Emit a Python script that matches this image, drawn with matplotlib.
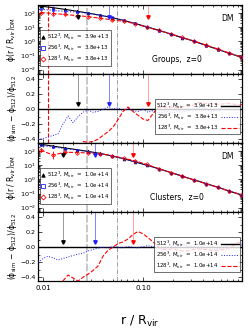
import numpy as np
import matplotlib
matplotlib.use("Agg")
import matplotlib.pyplot as plt
from matplotlib.lines import Line2D
from matplotlib.ticker import FixedLocator, LogFormatterMathtext, LogLocator, NullFormatter

# profile bins (r/Rvir) and log10 of the normalised density profile
r_bins = [0.0095, 0.0126, 0.0166, 0.0219, 0.0282, 0.0372, 0.0490, 0.0646, 0.0832,
          0.110, 0.145, 0.191, 0.245, 0.324, 0.427, 0.562, 0.724, 0.955]

grp_512 = [2.47, 2.36, 2.24, 2.11, 1.98, 1.83, 1.66, 1.46, 1.25, 1.01, 0.76, 0.50, 0.26, 0.00, -0.29, -0.57, -0.84, -1.12]
grp_256 = [2.26, 2.17, 2.10, 2.05, 1.97, 1.82, 1.67, 1.46, 1.25, 1.00, 0.75, 0.49, 0.25, 0.00, -0.30, -0.58, -0.84, -1.10]
grp_128 = [2.02, 1.95, 1.88, 1.80, 1.73, 1.62, 1.50, 1.40, 1.23, 0.98, 0.76, 0.51, 0.27, 0.02, -0.27, -0.55, -0.82, -1.10]
grp_err_512 = [0.05, 0.04, 0.04, 0.03, 0.03, 0.03, 0.02, 0.02, 0.02, 0.02, 0.02, 0.02, 0.02, 0.02, 0.02, 0.02, 0.02, 0.02]
grp_err_256 = [0.08, 0.30, 0.08, 0.06, 0.05, 0.04, 0.04, 0.03, 0.03, 0.03, 0.02, 0.02, 0.02, 0.02, 0.02, 0.02, 0.02, 0.02]
grp_err_128 = [0.10, 0.12, 0.10, 0.10, 0.08, 0.08, 0.07, 0.06, 0.05, 0.04, 0.04, 0.03, 0.03, 0.03, 0.03, 0.03, 0.03, 0.03]

cl_512 = [2.46, 2.33, 2.20, 2.08, 1.96, 1.82, 1.64, 1.44, 1.22, 0.98, 0.73, 0.47, 0.22, -0.04, -0.30, -0.56, -0.82, -1.09]
cl_256 = [2.38, 2.27, 2.16, 2.05, 1.93, 1.80, 1.63, 1.44, 1.22, 0.98, 0.73, 0.47, 0.23, -0.03, -0.30, -0.57, -0.83, -1.08]
cl_128 = [2.05, 1.70, 1.90, 1.88, 1.85, 1.80, 1.66, 1.47, 1.30, 1.04, 0.74, 0.47, 0.22, -0.05, -0.31, -0.57, -0.83, -1.07]
cl_err_512 = [0.04, 0.04, 0.03, 0.03, 0.03, 0.02, 0.02, 0.02, 0.02, 0.02, 0.02, 0.02, 0.02, 0.02, 0.02, 0.02, 0.02, 0.02]
cl_err_256 = [0.06, 0.05, 0.05, 0.04, 0.04, 0.03, 0.03, 0.03, 0.02, 0.02, 0.02, 0.02, 0.02, 0.02, 0.02, 0.02, 0.02, 0.02]
cl_err_128 = [0.15, 0.30, 0.12, 0.10, 0.08, 0.08, 0.06, 0.05, 0.05, 0.04, 0.04, 0.03, 0.03, 0.03, 0.03, 0.03, 0.03, 0.03]

# residual curves (phi_sim - phi_512)/phi_512 on a finer grid
r_res = [0.00891, 0.0100, 0.0112, 0.0126, 0.0141, 0.0158, 0.0178, 0.0200, 0.0224, 0.0251,
         0.0282, 0.0316, 0.0355, 0.0398, 0.0447, 0.0501, 0.0562, 0.0631, 0.0708, 0.0794,
         0.0891, 0.100, 0.112, 0.126, 0.141, 0.158, 0.178, 0.200, 0.224, 0.251,
         0.282, 0.316, 0.355, 0.398, 0.447, 0.501, 0.562, 0.631, 0.708, 0.794, 0.891, 0.977]
nan = np.nan
res_grp_256 = [-0.40, -0.39, -0.37, -0.35, -0.33, -0.20, -0.09, -0.18, -0.10, -0.04,
               -0.01, -0.04, -0.03, 0.00, 0.03, 0.00, 0.02, -0.02, 0.01, -0.02,
               -0.03, 0.00, -0.04, -0.02, -0.05, -0.04, -0.03, -0.05, -0.03, -0.04,
               -0.02, 0.00, 0.02, 0.03, -0.01, -0.03, 0.00, 0.03, 0.05, 0.06, 0.04, 0.03]
res_grp_128 = [nan, nan, nan, nan, nan, nan, nan, nan, nan, -0.43,
               -0.44, -0.43, -0.40, -0.35, -0.30, -0.24, -0.14, -0.03, 0.03, -0.03,
               -0.08, -0.13, -0.15, -0.06, 0.02, 0.03, 0.02, 0.03, 0.02, 0.03,
               0.04, 0.05, 0.09, 0.08, 0.07, 0.07, 0.06, 0.07, 0.08, 0.07, 0.06, 0.06]
res_cl_256 = [-0.20, -0.15, -0.12, -0.14, -0.17, -0.15, -0.13, -0.11, -0.09, -0.08,
              -0.05, -0.03, -0.01, 0.00, -0.01, 0.01, 0.00, -0.01, 0.01, 0.00,
              -0.01, 0.01, 0.02, 0.01, -0.01, -0.02, -0.01, 0.02, 0.03, 0.04,
              0.02, 0.01, 0.00, -0.02, -0.03, -0.03, -0.02, -0.01, 0.02, 0.05, 0.04, 0.03]
res_cl_128 = [nan, nan, nan, nan, nan, -0.45, -0.37, -0.41, -0.45, -0.40,
              -0.36, -0.31, -0.25, -0.12, -0.04, 0.00, 0.05, 0.07, 0.11, 0.17,
              0.21, 0.18, 0.13, 0.07, 0.02, -0.03, -0.03, -0.02, -0.04, -0.05,
              -0.05, -0.03, -0.02, -0.03, -0.03, -0.05, -0.04, -0.03, -0.02, 0.02, 0.06, 0.07]

masses_grp = ["3.9e+13", "3.8e+13", "3.8e+13"]
masses_cl = ["1.0e+14", "1.0e+14", "1.0e+14"]
res_labels = ["512", "256", "128"]

# convergence radii (arrows) and reference lines
arrows_grp = [0.0224, 0.046, 0.112]
arrows_cl = [0.0158, 0.033, 0.079]
r_gray = 0.0275
r_dashdot = 0.055
r_red_grp = 0.0111

colors = ["black", "#2020ff", "red"]
arrow_line = ["#888888", "#7070ff", "#ff9090"]
lstyles = ["-", ":", "--"]
markers = ["^", "s", "D"]

plt.rcParams["font.family"] = "DejaVu Sans"
plt.rcParams["mathtext.default"] = "regular"

fig, axes = plt.subplots(4, 1, figsize=(2.48, 3.31), dpi=100, sharex=True)
fig.subplots_adjust(left=0.153, right=0.976, top=0.985, bottom=0.151, hspace=0)


def style_axis(ax):
    ax.tick_params(which="both", direction="in", top=True, right=True,
                   labelsize=4.6, width=0.5, pad=1.5)
    ax.tick_params(which="major", length=3)
    ax.tick_params(which="minor", length=1.5)
    for s in ax.spines.values():
        s.set_linewidth(0.9)


def ref_lines(ax, red_line):
    ax.axvline(r_gray, color="#c8c8c8", lw=1.4, ls=(0, (4, 1)), zorder=1)
    ax.axvline(r_dashdot, color="#777777", lw=0.5, ls="-.", zorder=1)
    if red_line:
        ax.axvline(r_red_grp, color="red", lw=0.8, ls="--", zorder=1)


def profile_panel(ax, prof, errs, masses, arrows, label, red_line):
    ax.set_xscale("log")
    ax.set_yscale("log")
    ax.set_ylim(10 ** -2.3, 10 ** 2.55)
    ref_lines(ax, red_line)
    top = ax.get_ylim()[1]
    for i in range(3):
        ax.plot([arrows[i], arrows[i]], [top, 50], color=arrow_line[i], lw=0.6, zorder=2)
        ax.plot(arrows[i], 50, marker="v", color=colors[i], ms=2.5, zorder=5)
    handles = []
    for i in range(3):
        y = 10 ** np.array(prof[i])
        e = np.array(errs[i])
        lo = y - 10 ** (np.array(prof[i]) - e)
        hi = 10 ** (np.array(prof[i]) + e) - y
        ax.plot(r_bins, y, color=colors[i], ls=lstyles[i], lw=0.8, zorder=3)
        ax.errorbar(r_bins, y, yerr=[lo, hi], fmt="none", ecolor=colors[i], elinewidth=0.6,
                    capsize=0, zorder=4)
        fc = colors[i] if i == 0 else "none"
        ax.plot(r_bins, y, ls="none", marker=markers[i], ms=2.0, mfc=fc, mec=colors[i],
                mew=0.5, zorder=4)
        handles.append(Line2D([], [], ls="none", marker=markers[i], ms=2.5, mfc=fc,
                              mec=colors[i], mew=0.6,
                              label=res_labels[i] + "$^3$, M$_{vir}$  =  " + masses[i]))
    leg = ax.legend(handles=handles, loc="lower left", bbox_to_anchor=(0.0, 0.09),
                    fontsize=3.9, frameon=True, fancybox=False, handlelength=0.6,
                    handletextpad=0.4, borderpad=0.35, labelspacing=0.15,
                    borderaxespad=0.3)
    leg.get_frame().set_edgecolor("black")
    leg.get_frame().set_linewidth(0.5)
    ax.yaxis.set_major_locator(FixedLocator([1e-2, 1e-1, 1e0, 1e1, 1e2]))
    ax.yaxis.set_major_formatter(LogFormatterMathtext())
    ax.yaxis.set_minor_locator(LogLocator(base=10, subs=np.arange(2, 10), numticks=20))
    ax.yaxis.set_minor_formatter(NullFormatter())
    ax.text(0.93, 0.77, "DM", transform=ax.transAxes, fontsize=5.5, ha="center")
    ax.text(0.68, 0.17, label, transform=ax.transAxes, fontsize=5.5, ha="center")
    ax.set_ylabel(r"$\phi$(r / R$_{vir}$)$_{DM}$", fontsize=5.5, labelpad=1)
    style_axis(ax)


def residual_panel(ax, res256, res128, masses, arrows, red_line):
    ax.set_ylim(-0.45, 0.47)
    ref_lines(ax, red_line)
    top = ax.get_ylim()[1]
    for i in range(3):
        ax.plot([arrows[i], arrows[i]], [top, 0.07], color=arrow_line[i], lw=0.6, zorder=2)
        ax.plot(arrows[i], 0.07, marker="v", color=colors[i], ms=2.5, zorder=5)
    series = [np.zeros(len(r_res)), res256, res128]
    widths = [1.0, 0.7, 0.8]
    for i in range(3):
        ax.plot(r_res, series[i], color=colors[i], ls=lstyles[i], lw=widths[i], zorder=3,
                label=res_labels[i] + "$^3$, M$_{vir}$  =  " + masses[i])
    leg = ax.legend(loc="lower right", bbox_to_anchor=(1.0, 0.1), fontsize=3.9,
                    frameon=True, fancybox=False, markerfirst=False, handlelength=3.2,
                    handletextpad=0.5, borderpad=0.35, labelspacing=0.15,
                    borderaxespad=0.3)
    leg.get_frame().set_edgecolor("black")
    leg.get_frame().set_linewidth(0.5)
    ax.yaxis.set_major_locator(plt.MultipleLocator(0.2))
    ax.yaxis.set_minor_locator(plt.MultipleLocator(0.1))
    ax.yaxis.set_major_formatter(plt.FuncFormatter(lambda v, p: f"{v:.1f}".replace("-", "\u2212")))
    ax.set_ylabel(r"($\phi_{sim}$ $-$ $\phi_{512}$)/$\phi_{512}$", fontsize=5.5, labelpad=1)
    style_axis(ax)


profile_panel(axes[0], [grp_512, grp_256, grp_128], [grp_err_512, grp_err_256, grp_err_128],
              masses_grp, arrows_grp, "Groups,  z=0", True)
residual_panel(axes[1], res_grp_256, res_grp_128, masses_grp, arrows_grp, True)
profile_panel(axes[2], [cl_512, cl_256, cl_128], [cl_err_512, cl_err_256, cl_err_128],
              masses_cl, arrows_cl, "Clusters,  z=0", False)
residual_panel(axes[3], res_cl_256, res_cl_128, masses_cl, arrows_cl, False)

axes[3].set_xlim(0.0089, 0.98)
axes[3].xaxis.set_major_locator(FixedLocator([0.01, 0.1]))
axes[3].xaxis.set_major_formatter(plt.FixedFormatter(["0.01", "0.10"]))
axes[3].tick_params(axis="x", which="major", labelsize=5, pad=3)

fig.text(0.565, 0.03, "r / R$_{vir}$", fontsize=9, ha="center", va="center")

fig.savefig("out.png", dpi=100)
